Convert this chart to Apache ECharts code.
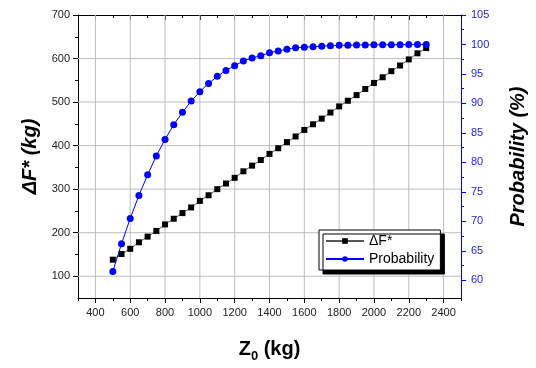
<!DOCTYPE html>
<html>
<head>
<meta charset="utf-8">
<script src="https://cdn.jsdelivr.net/npm/echarts@6/dist/echarts.min.js"></script>
<style>
  html, body { margin: 0; padding: 0; background: #fff; }
  #chart { width: 536px; height: 368px; }
</style>
</head>
<body>
<div id="chart"></div>
<script>
// Z0 (kg)
const zValues = [500, 550, 600, 650, 700, 750, 800, 850, 900, 950, 1000, 1050, 1100, 1150, 1200,
  1250, 1300, 1350, 1400, 1450, 1500, 1550, 1600, 1650, 1700, 1750, 1800, 1850, 1900, 1950,
  2000, 2050, 2100, 2150, 2200, 2250, 2300];
// ΔF* (kg)
const deltaF = [138, 151, 163, 178, 191, 204, 219, 232, 245, 258, 273, 286, 300, 313, 326,
  341, 354, 367, 381, 394, 408, 421, 436, 449, 462, 476, 490, 503, 516, 530,
  544, 557, 571, 584, 598, 612, 624];
// Probability (%)
const probability = [61.5, 66.2, 70.5, 74.4, 77.9, 81.1, 83.9, 86.4, 88.5, 90.4, 92.0, 93.4, 94.6, 95.6, 96.4,
  97.2, 97.7, 98.1, 98.6, 98.9, 99.2, 99.45, 99.55, 99.6, 99.7, 99.8, 99.85, 99.88, 99.9, 99.92,
  99.94, 99.95, 99.96, 99.97, 99.98, 99.99, 100];

const xMajor = [400, 600, 800, 1000, 1200, 1400, 1600, 1800, 2000, 2200, 2400];
const xMinor = [300, 500, 700, 900, 1100, 1300, 1500, 1700, 1900, 2100, 2300, 2500];
const yLeftMajor = [100, 200, 300, 400, 500, 600, 700];
const yLeftMinor = [150, 250, 350, 450, 550, 650];
const yRightMajor = [60, 65, 70, 75, 80, 85, 90, 95, 100, 105];
const yRightMinor = [62.5, 67.5, 72.5, 77.5, 82.5, 87.5, 92.5, 97.5, 102.5];

const X_MIN = 300, X_MAX = 2500, YL_MIN = 50, YL_MAX = 700, YR_MIN = 57, YR_MAX = 105;

const FONT = '"Liberation Sans", Arial, sans-serif';
const BLUE = '#0000ff';
const GRID = '#bdbdbd';

const chart = echarts.init(document.getElementById('chart'));

const xBase = { type: 'value', min: X_MIN, max: X_MAX };
const noLabel = { show: false };
const plain = v => String(v);

// grid lines at the major ticks, drawn as plain lines across the plot
const gridSeries = xMajor.map(v => [[v, YL_MIN], [v, YL_MAX]])
  .concat(yLeftMajor.filter(v => v < YL_MAX).map(v => [[X_MIN, v], [X_MAX, v]]))
  .map(pts => ({
    type: 'line',
    xAxisIndex: 0,
    yAxisIndex: 0,
    z: 1,
    silent: true,
    symbol: 'none',
    lineStyle: { color: GRID, width: 1 },
    emphasis: { disabled: true },
    data: pts
  }));

chart.setOption({
  animation: false,
  grid: { left: 78, right: 60, top: 15, bottom: 59 },
  legend: {
    orient: 'vertical',
    left: 319,
    top: 230,
    z: 10,
    padding: [4, 6, 4, 6],
    itemGap: 4,
    itemWidth: 38,
    itemHeight: 7,
    backgroundColor: '#fff',
    borderColor: '#000',
    borderWidth: 1,
    borderRadius: 0,
    shadowColor: '#000',
    shadowBlur: 0,
    shadowOffsetX: 4,
    shadowOffsetY: 4,
    textStyle: { fontFamily: FONT, fontSize: 14, color: '#000' },
    data: ['ΔF*', 'Probability']
  },
  xAxis: [
    {
      ...xBase,
      position: 'bottom',
      name: '{a|Z}{sub|0}{a| (kg)}',
      nameLocation: 'middle',
      nameGap: 38,
      nameTextStyle: {
        rich: {
          a: { fontFamily: FONT, fontSize: 20, fontWeight: 'bold', color: '#000' },
          sub: { fontFamily: FONT, fontSize: 13, fontWeight: 'bold', color: '#000', padding: [14, 0, 0, 0] }
        }
      },
      axisLine: { show: true, lineStyle: { color: '#000', width: 1 } },
      axisTick: { show: true, customValues: xMajor, length: 5, lineStyle: { color: '#000' } },
      axisLabel: { customValues: xMajor, formatter: plain, margin: 9, fontFamily: FONT, fontSize: 11, color: '#222' },
      splitLine: { show: false }
    },
    {
      ...xBase,
      position: 'bottom',
      axisLine: { show: false },
      axisTick: { show: true, customValues: xMinor, length: 3, lineStyle: { color: '#000' } },
      axisLabel: noLabel,
      splitLine: { show: false }
    },
    {
      ...xBase,
      position: 'top',
      axisLine: { show: true, lineStyle: { color: '#000', width: 1 } },
      axisTick: { show: true, inside: true, customValues: xMajor, length: 5, lineStyle: { color: '#000' } },
      axisLabel: noLabel,
      splitLine: { show: false }
    },
    {
      ...xBase,
      position: 'top',
      axisLine: { show: false },
      axisTick: { show: true, inside: true, customValues: xMinor, length: 3, lineStyle: { color: '#000' } },
      axisLabel: noLabel,
      splitLine: { show: false }
    }
  ],
  yAxis: [
    {
      type: 'value',
      min: YL_MIN,
      max: YL_MAX,
      position: 'left',
      name: 'ΔF* (kg)',
      nameLocation: 'middle',
      nameRotate: 90,
      nameGap: 38,
      nameTextStyle: { fontFamily: FONT, fontSize: 20, fontWeight: 'bold', fontStyle: 'italic', color: '#000' },
      axisLine: { show: true, lineStyle: { color: '#000', width: 1 } },
      axisTick: { show: true, customValues: yLeftMajor, length: 5, lineStyle: { color: '#000' } },
      axisLabel: { customValues: yLeftMajor, formatter: plain, margin: 8, fontFamily: FONT, fontSize: 11, color: '#222' },
      splitLine: { show: false }
    },
    {
      type: 'value',
      min: YL_MIN,
      max: YL_MAX,
      position: 'left',
      axisLine: { show: false },
      axisTick: { show: true, customValues: yLeftMinor, length: 3, lineStyle: { color: '#000' } },
      axisLabel: noLabel,
      splitLine: { show: false }
    },
    {
      type: 'value',
      min: YR_MIN,
      max: YR_MAX,
      position: 'right',
      name: 'Probability (%)',
      nameLocation: 'middle',
      nameRotate: 90,
      nameGap: 47,
      nameTextStyle: { fontFamily: FONT, fontSize: 20, fontWeight: 'bold', fontStyle: 'italic', color: '#000' },
      axisLine: { show: true, lineStyle: { color: BLUE, width: 1 } },
      axisTick: { show: true, customValues: yRightMajor, length: 5, lineStyle: { color: BLUE } },
      axisLabel: { customValues: yRightMajor, formatter: plain, margin: 10, fontFamily: FONT, fontSize: 11, color: '#2222dd' },
      splitLine: { show: false }
    },
    {
      type: 'value',
      min: YR_MIN,
      max: YR_MAX,
      position: 'right',
      axisLine: { show: false },
      axisTick: { show: true, customValues: yRightMinor, length: 3, lineStyle: { color: BLUE } },
      axisLabel: noLabel,
      splitLine: { show: false }
    }
  ],
  series: gridSeries.concat([
    {
      name: 'ΔF*',
      type: 'line',
      xAxisIndex: 0,
      yAxisIndex: 0,
      z: 6,
      symbol: 'rect',
      symbolSize: 6,
      lineStyle: { color: '#555', width: 1 },
      itemStyle: { color: '#000' },
      data: zValues.map((z, i) => [z, deltaF[i]])
    },
    {
      name: 'Probability',
      type: 'line',
      xAxisIndex: 0,
      yAxisIndex: 2,
      z: 7,
      symbol: 'circle',
      symbolSize: 7,
      lineStyle: { color: BLUE, width: 1 },
      itemStyle: { color: BLUE },
      data: zValues.map((z, i) => [z, probability[i]])
    }
  ])
});
</script>
</body>
</html>
